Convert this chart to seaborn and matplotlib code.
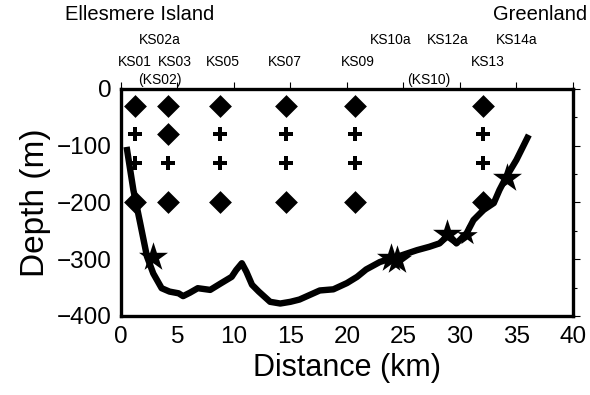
import numpy as np
import pandas as pd
import matplotlib
matplotlib.use("Agg")
import matplotlib.pyplot as plt
import matplotlib.transforms as mtransforms
from matplotlib.ticker import MultipleLocator
import seaborn as sns

# ---- bathymetry section (distance km, depth m) ----
dist_km = [0.5, 1.1, 1.7, 2.3, 2.86, 3.6, 4.3, 5.1, 5.5, 6.1, 6.8, 7.9, 8.8, 9.8,
           10.2, 10.7, 11.1, 11.6, 12.2, 12.7, 13.2, 14.1, 15.0, 15.8, 16.7, 17.6,
           18.8, 20.0, 20.9, 21.7, 22.9, 23.2, 24.1, 25.3, 26.2, 27.3, 28.2, 29.0,
           29.7, 30.6, 31.2, 32.1, 33.0, 33.5, 34.1, 35.0, 36.1]
depth_m = [-102, -178, -236, -295, -325, -351, -357, -360, -365, -359, -351, -354,
           -343, -331, -319, -307, -322, -345, -357, -366, -375, -378, -375, -371,
           -363, -355, -353, -342, -331, -318, -305, -303, -298, -290, -284, -278,
           -272, -257, -272, -254, -231, -213, -201, -178, -155, -125, -81]

# ---- sampling stations ----
station_x = [1.2, 4.2, 8.8, 14.6, 20.7, 32.0]
sample_depth = [-30, -80, -130, -200]
# kind of sample at each depth, one list per station column
kind_ks01 = ["diamond", "plus", "plus", "diamond"]
kind_ks03 = ["diamond", "diamond", "plus", "diamond"]
kind_ks05 = ["diamond", "plus", "plus", "diamond"]
kind_ks07 = ["diamond", "plus", "plus", "diamond"]
kind_ks09 = ["diamond", "plus", "plus", "diamond"]
kind_ks13 = ["diamond", "plus", "plus", "diamond"]
station_kinds = [kind_ks01, kind_ks03, kind_ks05, kind_ks07, kind_ks09, kind_ks13]

# ---- star stations ----
star_x = [2.85, 23.9, 24.4, 28.9, 30.6, 34.2]
star_y = [-296, -298, -301, -255, -258, -157]
star_size = [480, 480, 480, 480, 240, 480]

# ---- labels ----
label_row1 = ["KS02a", "KS10a", "KS12a", "KS14a"]
label_row1_x = [3.4, 23.9, 28.9, 35.0]
label_row2 = ["KS01", "KS03", "KS05", "KS07", "KS09", "KS13"]
label_row2_x = [1.2, 4.8, 9.0, 14.5, 21.0, 32.5]
label_row3 = ["(KS02)", "(KS10)"]
label_row3_x = [3.45, 27.2]

sns.set_theme(style="white")
plt.rcParams["font.family"] = ["Liberation Sans", "DejaVu Sans"]
plt.rcParams["text.color"] = "black"
plt.rcParams["axes.labelcolor"] = "black"
plt.rcParams["xtick.color"] = "black"
plt.rcParams["ytick.color"] = "black"

fig = plt.figure(figsize=(5.9, 3.95), dpi=100)
ax = fig.add_axes([0.205, 0.2, 0.766, 0.5747])

bathy = pd.DataFrame({"dist": dist_km, "depth": depth_m})
sns.lineplot(data=bathy, x="dist", y="depth", color="black", linewidth=4.6,
             sort=False, ax=ax, solid_joinstyle="round", solid_capstyle="butt",
             zorder=3)

rows = []
for sx, kinds in zip(station_x, station_kinds):
    for d, k in zip(sample_depth, kinds):
        rows.append({"x": sx, "y": d, "kind": k})
samples = pd.DataFrame(rows)
dia = samples[samples.kind == "diamond"]
pls = samples[samples.kind == "plus"]
sns.scatterplot(data=dia, x="x", y="y", marker="D", s=135, color="black",
                edgecolor="black", linewidth=0, ax=ax, zorder=4)
sns.scatterplot(data=pls, x="x", y="y", marker="P", s=115, color="black",
                edgecolor="black", linewidth=0, ax=ax, zorder=4)

stars = pd.DataFrame({"x": star_x, "y": star_y, "s": star_size})
for _, r in stars.iterrows():
    ax.scatter([r.x], [r.y], marker="*", s=r.s, color="black", linewidths=0,
               zorder=5)

ax.set_xlim(0, 40)
ax.set_ylim(-400, 0)
ax.xaxis.set_major_locator(MultipleLocator(5))
ax.yaxis.set_major_locator(MultipleLocator(100))
ax.yaxis.set_minor_locator(MultipleLocator(50))
ax.tick_params(which="both", direction="out", top=True, right=True,
               labeltop=False, labelright=False, color="black", width=0.8)
ax.tick_params(which="major", length=5, labelsize=17.5, pad=2,
               labelcolor="black")
ax.tick_params(which="minor", length=3)
for sp in ax.spines.values():
    sp.set_linewidth(2.4)
    sp.set_color("black")
    sp.set_visible(True)
ax.set_xlabel("Distance (km)", fontsize=22, labelpad=4)
ax.set_ylabel("Depth (m)", fontsize=24, labelpad=4)

tr = mtransforms.blended_transform_factory(ax.transData, ax.transAxes)
for t, x in zip(label_row1, label_row1_x):
    ax.text(x, 1.216, t, transform=tr, ha="center", va="center", fontsize=10)
for t, x in zip(label_row2, label_row2_x):
    ax.text(x, 1.119, t, transform=tr, ha="center", va="center", fontsize=10)
for t, x in zip(label_row3, label_row3_x):
    ax.text(x, 1.040, t, transform=tr, ha="center", va="center", fontsize=10)

fig.text(65 / 590, 1 - 15 / 395, "Ellesmere Island", ha="left", va="center",
         fontsize=14.5)
fig.text(587 / 590, 1 - 15 / 395, "Greenland", ha="right", va="center",
         fontsize=14.5)

fig.savefig("out.png", dpi=100)
